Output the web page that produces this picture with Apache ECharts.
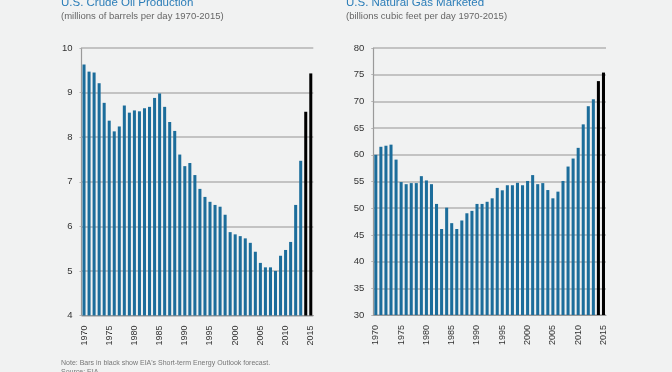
<!DOCTYPE html>
<html>
<head>
<meta charset="utf-8">
<script src="https://cdn.jsdelivr.net/npm/echarts@6/dist/echarts.min.js"></script>
<style>
html,body{margin:0;padding:0;background:#f1f2f2;}
#c{width:672px;height:372px;}
</style>
</head>
<body>
<div id="c"></div>
<script>
const years = [];
for (let y = 1970; y <= 2015; y++) years.push(String(y));
const forecastYears = ['2014', '2015'];

const oilValues = [9.63, 9.47, 9.45, 9.21, 8.77, 8.37, 8.13, 8.24, 8.71, 8.55,
  8.60, 8.58, 8.65, 8.68, 8.88, 8.98, 8.68, 8.34, 8.14, 7.61,
  7.35, 7.42, 7.15, 6.84, 6.66, 6.55, 6.48, 6.44, 6.26, 5.87,
  5.82, 5.78, 5.73, 5.63, 5.43, 5.18, 5.08, 5.08, 5.00, 5.34,
  5.47, 5.65, 6.48, 7.47, 8.57, 9.43];

const gasValues = [60.0, 61.5, 61.7, 61.9, 59.1, 54.9, 54.5, 54.7, 54.7, 56.0,
  55.2, 54.5, 50.8, 46.1, 50.1, 47.2, 46.1, 47.7, 49.05, 49.5,
  50.8, 50.8, 51.2, 51.85, 53.8, 53.35, 54.3, 54.3, 54.75, 54.3,
  55.1, 56.2, 54.5, 54.7, 53.4, 51.85, 53.1, 55.1, 57.8, 59.3,
  61.3, 65.7, 69.1, 70.4, 73.8, 75.4];

const oilTicks = {min: 4, max: 10, interval: 1};
const gasTicks = {min: 30, max: 80, interval: 5};

const titles = ['U.S. Crude Oil Production', 'U.S. Natural Gas Marketed'];
const subtitles = ['(millions of barrels per day 1970-2015)', '(billions cubic feet per day 1970-2015)'];
const note = "Note: Bars in black show EIA's Short-term Energy Outlook forecast.";
const source = 'Source: EIA';

const BLUE = '#1c6d9b';
const FONT = '"Liberation Sans", Arial, sans-serif';

function barData(vals) {
  return vals.map((v, i) => ({
    value: v,
    itemStyle: {color: forecastYears.indexOf(years[i]) >= 0 ? '#000000' : BLUE}
  }));
}

function xAxis(idx) {
  return {
    type: 'category', gridIndex: idx, data: years,
    axisLine: {lineStyle: {color: '#9a9a9a', width: 1.2}},
    axisTick: {interval: 4, length: 4, lineStyle: {color: '#9a9a9a'}},
    axisLabel: {interval: 4, rotate: 90, margin: 10, fontSize: 9, color: '#333', fontFamily: FONT}
  };
}
function yAxis(idx, t) {
  return {
    type: 'value', gridIndex: idx, min: t.min, max: t.max, interval: t.interval,
    axisLine: {show: true, lineStyle: {color: '#9a9a9a', width: 1.2}},
    axisTick: {show: true, length: 2, lineStyle: {color: '#b3b3b3'}},
    splitLine: {lineStyle: {color: '#b3b3b3', width: 1.5}},
    axisLabel: {margin: 9, fontSize: 9.5, color: '#333', fontFamily: FONT}
  };
}

function txt(x, y, text, size, color) {
  return {type: 'text', x: x, y: y, style: {text: text, fontSize: size, fill: color, fontFamily: FONT, textVerticalAlign: 'middle', verticalAlign: 'middle'}};
}

const chart = echarts.init(document.getElementById('c'), null, {renderer: 'canvas'});
chart.setOption({
  backgroundColor: '#f1f2f2',
  animation: false,
  grid: [
    {left: 81.5, top: 48, width: 231.8, height: 267.5},
    {left: 373.3, top: 48, width: 232.7, height: 267}
  ],
  xAxis: [xAxis(0), xAxis(1)],
  yAxis: [yAxis(0, oilTicks), yAxis(1, gasTicks)],
  series: [
    {type: 'bar', xAxisIndex: 0, yAxisIndex: 0, data: barData(oilValues), barCategoryGap: '40%'},
    {type: 'bar', xAxisIndex: 1, yAxisIndex: 1, data: barData(gasValues), barCategoryGap: '40%'}
  ],
  graphic: [
    txt(61, 3.3, titles[0], 11.5, '#2b7db8'),
    txt(61, 16.5, subtitles[0], 9.5, '#666'),
    txt(346, 3.3, titles[1], 11.5, '#2b7db8'),
    txt(346, 16.5, subtitles[1], 9.5, '#666'),
    txt(61, 363.5, note, 7, '#777'),
    txt(61, 372, source, 7, '#777')
  ]
});
</script>
</body>
</html>
